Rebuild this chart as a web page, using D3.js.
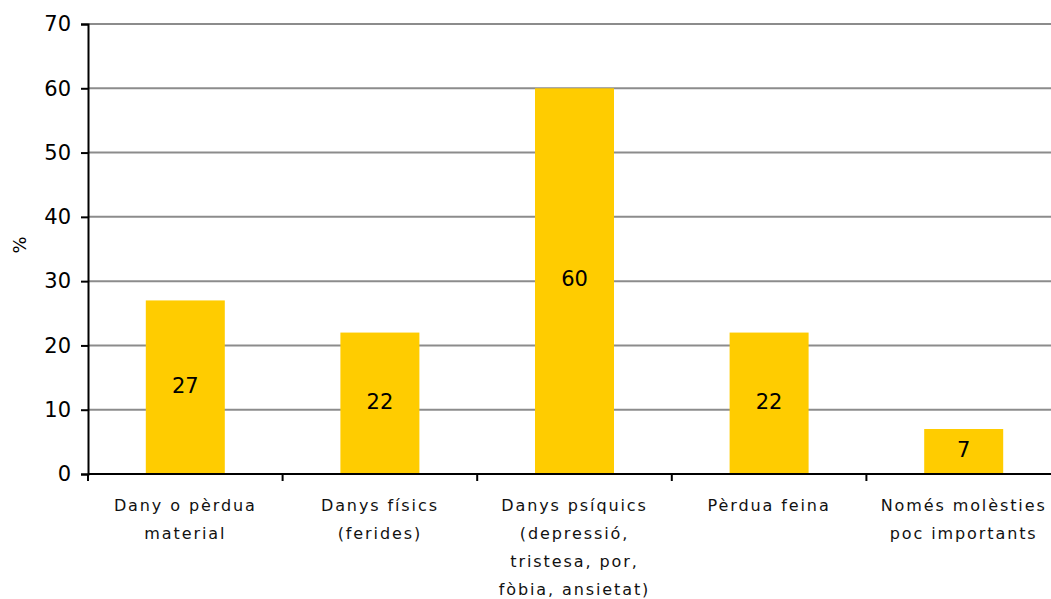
<!DOCTYPE html>
<html>
<head>
  <meta charset="UTF-8">
  <title>danys</title>
  <style>
    body { margin: 0; background: #fff; }
    svg { display: block; font-family: "DejaVu Sans", Verdana, sans-serif; }
  </style>
</head>
<body>
  <div class="svg-zone"></div>
  <script src="https://cdn.jsdelivr.net/npm/d3@7"></script>
  <script type="text/javascript">
  // categories (one line per array item)
  let categories = [
    ["Dany o pèrdua", "material"],
    ["Danys físics", "(ferides)"],
    ["Danys psíquics", "(depressió,", "tristesa, por,", "fòbia, ansietat)"],
    ["Pèrdua feina"],
    ["Només molèsties", "poc importants"]
  ];
  let values = [27, 22, 60, 22, 7];
  let yTicks = [0, 10, 20, 30, 40, 50, 60, 70];

  render();

  function render() {
    var width = 1051, height = 599;
    var left = 88, top = 24, bottom = 474, right = 1061;

    var svg = d3.select(".svg-zone").append("svg")
      .attr("width", width)
      .attr("height", height);

    var x = d3.scaleBand()
      .domain(d3.range(categories.length))
      .range([left, right])
      .paddingInner(0)
      .paddingOuter(0);
    var y = d3.scaleLinear()
      .domain([0, 70])
      .range([bottom, top]);

    // gridlines
    svg.append("g")
      .selectAll("line")
      .data(yTicks.filter(d => d > 0))
      .enter().append("line")
      .attr("x1", left)
      .attr("x2", width)
      .attr("y1", d => y(d))
      .attr("y2", d => y(d))
      .attr("stroke", "#8c8c8c")
      .attr("stroke-width", 2);

    // bars
    var bw = 79;
    svg.append("g")
      .selectAll("rect")
      .data(values)
      .enter().append("rect")
      .attr("x", (d, i) => x(i) + x.bandwidth() / 2 - bw / 2)
      .attr("width", bw)
      .attr("y", d => y(d))
      .attr("height", d => bottom - y(d))
      .style("fill", "#ffcc00");

    // value labels
    svg.append("g")
      .selectAll("text")
      .data(values)
      .enter().append("text")
      .attr("x", (d, i) => x(i) + x.bandwidth() / 2)
      .attr("y", d => (y(d) + bottom) / 2 - 2)
      .attr("dy", "0.35em")
      .attr("text-anchor", "middle")
      .style("font-size", "21px")
      .text(d => d);

    // y axis
    var yAxis = svg.append("g")
      .attr("transform", "translate(" + left + ",0)")
      .call(d3.axisLeft(y).tickValues(yTicks).tickSize(7).tickPadding(10));
    yAxis.select(".domain").attr("stroke", "#000").attr("stroke-width", 2);
    yAxis.selectAll(".tick line").attr("stroke", "#000").attr("stroke-width", 2);
    yAxis.selectAll(".tick text")
      .style("font-family", "DejaVu Sans")
      .style("font-size", "21px")
      .attr("fill", "#000");

    // x axis
    var xAxis = svg.append("g")
      .attr("transform", "translate(0," + bottom + ")");
    xAxis.append("line")
      .attr("x1", left).attr("x2", width)
      .attr("stroke", "#000").attr("stroke-width", 2);
    xAxis.selectAll(".xtick")
      .data(d3.range(categories.length + 1))
      .enter().append("line")
      .attr("x1", d => left + d * x.step())
      .attr("x2", d => left + d * x.step())
      .attr("y1", 0).attr("y2", 7)
      .attr("stroke", "#000").attr("stroke-width", 2);

    var lab = xAxis.selectAll(".xlab")
      .data(categories)
      .enter().append("text")
      .attr("text-anchor", "middle")
      .style("font-size", "16px")
      .style("letter-spacing", "1.9px")
      .attr("fill", "#111");
    lab.selectAll("tspan")
      .data((d, i) => d.map(t => ({ t: t, i: i })))
      .enter().append("tspan")
      .attr("x", d => x(d.i) + x.bandwidth() / 2)
      .attr("y", (d, j) => 37 + j * 28)
      .text(d => d.t);

    // y title
    svg.append("text")
      .attr("transform", "translate(26,245) rotate(-90)")
      .attr("text-anchor", "middle")
      .style("font-size", "18px")
      .text("%");
  }
  </script>
</body>
</html>
